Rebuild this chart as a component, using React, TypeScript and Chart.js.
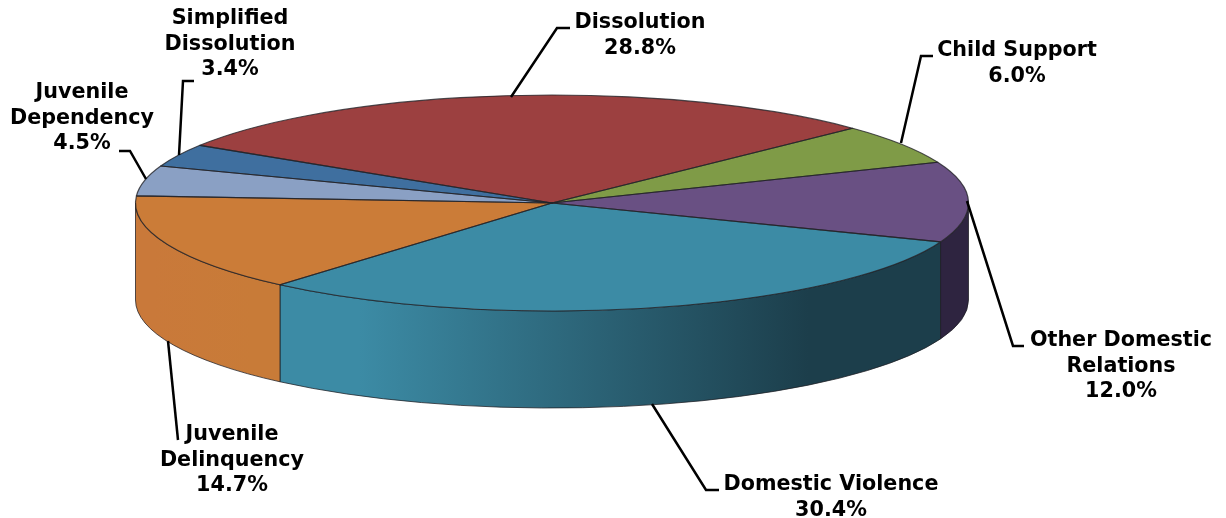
import React, { useEffect, useRef } from "react";
import { Chart, registerables } from "chart.js";

Chart.register(...registerables);

const categories = ["Dissolution", "Child Support", "Other Domestic Relations", "Domestic Violence", "Juvenile Delinquency", "Juvenile Dependency", "Simplified Dissolution"];
const shares = [28.8, 6.0, 12.0, 30.4, 14.7, 4.5, 3.4];
const topColors = ["#9c4040", "#7f9b47", "#695083", "#3c8ba5", "#cb7c38", "#8aa0c4", "#3f6f9f"];
const wallStops: string[][] = [
  ["#9c4040", "#9c4040"], ["#7f9b47", "#7f9b47"], ["#2e2440", "#2e2440"],
  ["#3c8ba5", "#1c3e4b"], ["#c9793a", "#c87b38"], ["#8aa0c4", "#8aa0c4"], ["#3f6f9f", "#3f6f9f"],
];

const labelLines: string[][] = [
  ["Dissolution", "28.8%"],
  ["Child Support", "6.0%"],
  ["Other Domestic", "Relations", "12.0%"],
  ["Domestic Violence", "30.4%"],
  ["Juvenile", "Delinquency", "14.7%"],
  ["Juvenile", "Dependency", "4.5%"],
  ["Simplified", "Dissolution", "3.4%"],
];
const labelAnchors = [
  { x: 640, y: 23 }, { x: 1017, y: 51 }, { x: 1121, y: 341 }, { x: 831, y: 485 },
  { x: 232, y: 435 }, { x: 82, y: 93 }, { x: 230, y: 19 },
];
const leaders = [
  [[511, 97], [557, 28], [570, 28]],
  [[901, 143], [921, 56], [933, 56]],
  [[967, 201], [1013, 346], [1024, 346]],
  [[652, 404], [706, 490], [719, 490]],
  [[168, 341], [178, 440]],
  [[146, 179], [130, 151], [119, 151]],
  [[179, 155], [183, 81], [194, 81]],
];

const RX = 416.5;
const RY = 108;
const DEPTH = 97;
const LINE_GAP = 25.5;

const pie3d = {
  id: "pie3d",
  beforeDatasetsDraw(chart: any) {
    const { ctx } = chart;
    const arcs = chart.getDatasetMeta(0).data;
    const cx = arcs[0].x, cy = arcs[0].y;
    arcs.forEach((arc: any, i: number) => {
      for (const k of [-2, 0, 2]) {
        const a1 = Math.max(arc.startAngle + k * Math.PI, 0);
        const a2 = Math.min(arc.endAngle + k * Math.PI, Math.PI);
        if (a2 <= a1) continue;
        const x1 = cx + RX * Math.cos(a2), x2 = cx + RX * Math.cos(a1);
        const g = ctx.createLinearGradient(x1, 0, x2, 0);
        g.addColorStop(0, wallStops[i][0]);
        g.addColorStop(0.12, wallStops[i][0]);
        g.addColorStop(0.8, wallStops[i][1]);
        g.addColorStop(1, wallStops[i][1]);
        ctx.save();
        ctx.beginPath();
        ctx.ellipse(cx, cy, RX, RY, 0, a1, a2);
        ctx.lineTo(cx + RX * Math.cos(a2), cy + RY * Math.sin(a2) + DEPTH);
        ctx.ellipse(cx, cy + DEPTH, RX, RY, 0, a2, a1, true);
        ctx.closePath();
        ctx.fillStyle = g;
        ctx.fill();
        ctx.strokeStyle = "rgba(30,30,35,0.75)";
        ctx.lineWidth = 1;
        ctx.stroke();
        ctx.restore();
      }
    });
    ctx.save();
    ctx.translate(cx, cy);
    ctx.scale(1, RY / RX);
    ctx.translate(-cx, -cy);
  },
  afterDatasetsDraw(chart: any) {
    const { ctx } = chart;
    ctx.restore();
    const arcs = chart.getDatasetMeta(0).data;
    const cx = arcs[0].x, cy = arcs[0].y;
    ctx.save();
    ctx.strokeStyle = "rgba(35,35,40,0.8)";
    ctx.lineWidth = 1.2;
    ctx.lineJoin = "round";
    arcs.forEach((arc: any) => {
      ctx.beginPath();
      ctx.moveTo(cx, cy);
      ctx.ellipse(cx, cy, RX, RY, 0, arc.startAngle, arc.endAngle);
      ctx.closePath();
      ctx.stroke();
    });
    ctx.strokeStyle = "#000";
    ctx.lineWidth = 2.5;
    ctx.lineJoin = "miter";
    leaders.forEach((pts) => {
      ctx.beginPath();
      pts.forEach((p, i) => (i ? ctx.lineTo(p[0], p[1]) : ctx.moveTo(p[0], p[1])));
      ctx.stroke();
    });
    ctx.fillStyle = "#000";
    ctx.font = "bold 20.7px 'DejaVu Sans'";
    ctx.textAlign = "center";
    ctx.textBaseline = "middle";
    labelLines.forEach((lines, i) => {
      lines.forEach((t, j) => ctx.fillText(t, labelAnchors[i].x, labelAnchors[i].y + j * LINE_GAP));
    });
    ctx.restore();
  },
};

export default function App() {
  const ref = useRef<HTMLCanvasElement>(null);
  useEffect(() => {
    const chart = new Chart(ref.current!, {
      type: "pie",
      data: {
        labels: categories,
        datasets: [{
          data: shares,
          backgroundColor: topColors,
          borderWidth: 0,
          hoverOffset: 0,
          radius: RX,
          clip: false,
        } as any],
      },
      options: {
        responsive: false,
        animation: false,
        devicePixelRatio: 1,
        rotation: 302.3,
        layout: { padding: { left: 0, top: 0, right: 122, bottom: 112 } },
        plugins: { legend: { display: false }, title: { display: false }, tooltip: { enabled: false } },
      },
      plugins: [pie3d],
    } as any);
    return () => chart.destroy();
  }, []);
  return (
    <div style={{ position: "absolute", left: 0, top: 0, width: 1226, height: 518, background: "#fff" }}>
      <canvas ref={ref} width={1226} height={518} style={{ display: "block" }} />
    </div>
  );
}
